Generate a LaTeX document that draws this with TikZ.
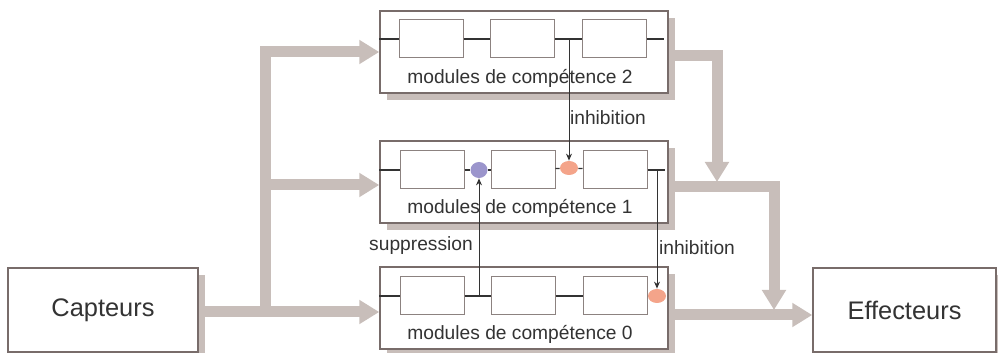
\documentclass[tikz,border=0pt]{standalone}
\usepackage{fontspec}
\setmainfont{Liberation Sans}
\usetikzlibrary{arrows.meta,shapes.geometric,shadows,positioning}

\definecolor{gristaupe}{HTML}{C8BEBA}
\definecolor{cadre}{HTML}{786C6A}
\definecolor{cadrefin}{HTML}{8C8280}
\definecolor{encre}{HTML}{333333}
\definecolor{lavande}{HTML}{9B95CC}
\definecolor{saumon}{HTML}{F4A48A}

\tikzset{
  ombre/.style={drop shadow={shadow xshift=3.5pt,shadow yshift=-3.5pt,fill=gristaupe,opacity=1}},
  bloc/.style={draw=cadre,line width=0.75pt,fill=white,ombre,minimum width=144pt,minimum height=41pt,inner sep=0pt},
  organe/.style={draw=cadre,line width=0.75pt,fill=white,ombre,minimum height=42pt,inner sep=0pt,text=encre,font=\fontsize{12.7}{15}\selectfont},
  module/.style={draw=cadrefin,line width=0.5pt,fill=white,minimum width=32pt,minimum height=19pt,inner sep=0pt},
  fil/.style={draw=encre,line width=0.6pt},
  signal/.style={draw=encre,line width=0.5pt,-{Stealth[length=3.5pt,width=3pt]}},
  fleche/.style={draw=gristaupe,line width=5.5pt,-{Triangle[length=10pt,width=11.5pt]}},
  etiq/.style={text=encre,font=\fontsize{9.6}{11}\selectfont,inner sep=0pt},
  sup/.style={ellipse,fill=lavande,minimum width=8.5pt,minimum height=8pt,inner sep=0pt},
  inh/.style={ellipse,fill=saumon,minimum width=9pt,minimum height=7pt,inner sep=0pt}
}

\begin{document}
\begin{tikzpicture}[x=0.5pt,y=-0.5pt]
\useasboundingbox (0,0) rectangle (998,353);

	% points de passage des flux
	\coordinate (b2) at (265,52);
	\coordinate (b1) at (265,185);
	\coordinate (b0) at (265,312);
	\coordinate (s2) at (717,56);
	\coordinate (s2bas) at (717,182);
	\coordinate (s1) at (774,187);
	\coordinate (s1bas) at (774,310);
	\coordinate (s0) at (774,315);

	\node[organe,minimum width=95pt] (capt) at (103,310) {Capteurs};
	\node[organe,minimum width=91.5pt] (eff) at (904.5,310) {Effecteurs};

	\node[bloc] (m2) at (524,52) {};
	\node[bloc] (m1) at (524,182) {};
	\node[bloc] (m0) at (524,308) {};

	\draw[fleche] (capt.east |- b0) -- (b0 -| m0.west);
	\draw[fleche] (b0) -- (b2) -- (b2 -| m2.west);
	\draw[fleche] (b1) -- (b1 -| m1.west);
	\draw[fleche] (m2.east |- s2) -- (s2) -- (s2bas);
	\draw[fleche] (m1.east |- s1) -- (s1) -- (s1bas);
	\draw[fleche] (m0.east |- s0) -- (s0 -| eff.west);

	% on redessine les blocs par-dessus les flux
	\node[organe,minimum width=95pt] at (capt) {Capteurs};
	\node[bloc] at (m2) {};
	\node[bloc] at (m1) {};
	\node[bloc] at (m0) {};

	\node[module] (m2a) at (431,39) {};
	\node[module] (m2b) at (522.5,39) {};
	\node[module] (m2c) at (614,39) {};
	\node[etiq] (l2) at (520,78) {modules de compétence 2};

	\node[module] (m1a) at (432,170) {};
	\node[sup] (sp) at (479,170) {};
	\node[module] (m1b) at (523,170) {};
	\node[inh] (ih1) at (569,168) {};
	\node[module] (m1c) at (615,170) {};
	\node[etiq] (l1) at (520,208) {modules de compétence 1};

	\node[module] (m0a) at (432,296) {};
	\node[module] (m0b) at (523,296) {};
	\node[module] (m0c) at (615,296) {};
	\node[inh] (ih0) at (657,296) {};
	\node[etiq] (l0) at (520,334) {modules de compétence 0};

	\draw[fil] (m2.west |- m2a) -- (m2a);
	\draw[fil] (m2a) -- (m2b);
	\draw[fil] (m2b) -- (m2c);
	\draw[fil,shorten >=2.5pt] (m2c) -- (m2c -| m2.east);

	\draw[fil] (m1.west |- m1a) -- (m1a);
	\draw[fil] (m1a) -- (sp);
	\draw[fil] (sp) -- (m1b);
	\draw[fil] (m1b) -- (ih1);
	\draw[fil] (ih1) -- (m1c);
	\draw[fil,shorten >=2pt] (m1c) -- (m1c -| m1.east);

	\draw[fil] (m0.west |- m0a) -- (m0a);
	\draw[fil] (m0a) -- (m0b);
	\draw[fil] (m0b) -- (m0c);

	\draw[signal] (ih1 |- m2c.west) -- (ih1);
	\draw[signal] (sp |- m0a.east) -- (sp);
	\draw[signal] (ih0 |- m1c.east) -- (ih0);

	\node[etiq] (t1) at (608,118) {inhibition};
	\node[etiq] (t2) at (421,246) {suppression};
	\node[etiq] (t3) at (697,248) {inhibition};

\end{tikzpicture}
\end{document}
